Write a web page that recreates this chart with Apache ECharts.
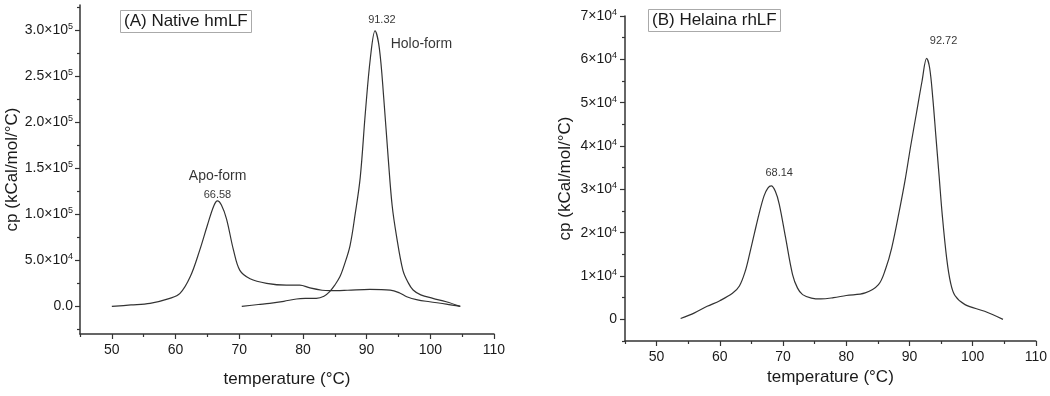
<!DOCTYPE html>
<html>
<head>
<meta charset="utf-8">
<script src="https://cdn.jsdelivr.net/npm/echarts@6/dist/echarts.min.js"></script>
<style>
  html, body { margin: 0; padding: 0; background: #fff; }
  #main { width: 1050px; height: 396px; }
</style>
</head>
<body>
<div id="main"></div>
<script>
// (A) native hmLF, apo-form scan
const apoT  = [50, 53, 56, 59.1, 60.7, 62.3, 63.8, 65, 66, 66.58, 67.2, 68, 69.1, 70.1, 71.7, 74.3, 77.4, 79.5, 81.1, 83, 84.2, 87, 90.5, 93.7, 95.2, 96.3, 98, 99.9, 102.5, 104.7]
const apoCp = [0, 1500, 3300, 8700, 14000, 32000, 61000, 88000, 109000, 114500, 110000, 95000, 61000, 39000, 30000, 25000, 23000, 23000, 20000, 17500, 17000, 17500, 18500, 17700, 14500, 10400, 7000, 5000, 2500, 0]

// (A) native hmLF, holo-form scan
const holoT  = [70.4, 73, 74.8, 77, 79, 80.5, 82.1, 83.3, 84.2, 85, 85.8, 86.5, 87.4, 88.2, 89, 89.8, 90.6, 91.32, 92, 92.7, 93.4, 94, 94.7, 95.7, 96.5, 97.3, 98.5, 100.4, 102.5, 104.7]
const holoCp = [0, 2000, 3300, 5500, 8000, 8600, 8700, 11000, 16000, 23000, 32000, 45000, 66000, 100000, 140000, 210000, 270000, 299000, 280000, 225000, 160000, 110000, 76000, 39000, 26000, 17700, 12500, 8700, 5000, 0]

// (B) Helaina rhLF
const rhT  = [53.8, 56, 58, 60, 62, 63.1, 64, 64.7, 65.5, 66.2, 67, 67.6, 68.14, 68.8, 69.4, 70.4, 71.5, 72.3, 73.1, 74.5, 76, 78, 80, 83, 85.1, 86.2, 87.2, 88.5, 89.3, 90.2, 91.1, 92, 92.72, 93.2, 93.7, 94.2, 94.7, 95.2, 95.9, 96.5, 97.2, 98.8, 101.9, 104.8]
const rhCp = [200, 1500, 3000, 4300, 6000, 7700, 11000, 15000, 20000, 24300, 28500, 30300, 30800, 29500, 26600, 18900, 10400, 7200, 5700, 4900, 4700, 5000, 5500, 6100, 8000, 11500, 16500, 25800, 32000, 40000, 47500, 55000, 60200, 58000, 51000, 42000, 33000, 24000, 14000, 8500, 5500, 3400, 1860, 0]

// tick values
const xMajor = [50, 60, 70, 80, 90, 100, 110]
const xMinor = [45, 55, 65, 75, 85, 95, 105]
const yMajorA = [0, 50000, 100000, 150000, 200000, 250000, 300000]
const yMinorA = [-25000, 25000, 75000, 125000, 175000, 225000, 275000, 325000]
const yMajorB = [0, 10000, 20000, 30000, 40000, 50000, 60000, 70000]
const yMinorB = [-5000, 5000, 15000, 25000, 35000, 45000, 55000, 65000]

// annotations [T, cp, text]
const notesA = [[66.6, 141500, 'Apo-form'], [66.58, 121000, '66.58'], [98.6, 284000, 'Holo-form'], [92.4, 311000, '91.32']]
const notesB = [[69.4, 33800, '68.14'], [95.4, 64200, '92.72']]

const ink = '#1a1a1a'
const axisLine = { show: true, onZero: false, lineStyle: { color: '#333', width: 1.5 } }
const font = 'Liberation Sans, Arial, sans-serif'

const sup = {
  m: { fontSize: 14, color: ink, fontFamily: font },
  e: { fontSize: 9, color: ink, fontFamily: font, padding: [0, 0, 7, 0] }
}

function fmtA (v) {
  if (v === 0) return '{m|0.0}'
  const p = v >= 100000 ? 5 : 4
  return '{m|' + (v / Math.pow(10, p)).toFixed(1) + '×10}{e|' + p + '}'
}
function fmtB (v) {
  if (v === 0) return '{m|0}'
  return '{m|' + (v / 10000) + '×10}{e|4}'
}

function xAxes (gi, gap) {
  return [{
    type: 'value', gridIndex: gi, min: 45, max: 110, position: 'bottom',
    axisLine: axisLine,
    axisTick: { show: true, customValues: xMajor, length: 5, lineStyle: { color: '#333', width: 1.2 } },
    axisLabel: { customValues: xMajor, fontSize: 14, color: ink, fontFamily: font, margin: 9 },
    splitLine: { show: false },
    name: 'temperature (°C)', nameLocation: 'middle', nameGap: gap,
    nameTextStyle: { fontSize: 17, color: ink, fontFamily: font }
  }, {
    type: 'value', gridIndex: gi, min: 45, max: 110, position: 'bottom',
    axisLine: { show: false, onZero: false },
    axisTick: { show: true, customValues: xMinor, length: 3, lineStyle: { color: '#333', width: 1.2 } },
    axisLabel: { show: false },
    splitLine: { show: false }
  }]
}

function yAxes (gi, min, max, major, minor, fmt, gap, margin) {
  return [{
    type: 'value', gridIndex: gi, min: min, max: max, position: 'left',
    axisLine: axisLine,
    axisTick: { show: true, customValues: major, length: 5, lineStyle: { color: '#333', width: 1.2 } },
    axisLabel: { customValues: major, formatter: fmt, rich: sup, margin: margin },
    splitLine: { show: false },
    name: 'cp (kCal/mol/°C)', nameLocation: 'middle', nameGap: gap,
    nameTextStyle: { fontSize: 17, color: ink, fontFamily: font }
  }, {
    type: 'value', gridIndex: gi, min: min, max: max, position: 'left',
    axisLine: { show: false, onZero: false },
    axisTick: { show: true, customValues: minor, length: 3, lineStyle: { color: '#333', width: 1.2 } },
    axisLabel: { show: false },
    splitLine: { show: false }
  }]
}

function curve (xs, ys, xi, yi) {
  return {
    type: 'line', xAxisIndex: xi, yAxisIndex: yi,
    data: xs.map((t, i) => [t, ys[i]]),
    smooth: 0.35, showSymbol: false, silent: true,
    lineStyle: { color: '#333', width: 1.2 }
  }
}

// text annotations, drawn as labels of invisible scatter points
function notes (list, xi, yi, sizeOf) {
  return {
    type: 'scatter', xAxisIndex: xi, yAxisIndex: yi, symbolSize: 2, silent: true,
    data: list.map(n => ({ value: [n[0], n[1]], name: n[2], label: { fontSize: sizeOf(n[2]) } })),
    label: {
      show: true, position: 'inside', color: '#000', fontFamily: font,
      formatter: p => p.name
    },
    labelLayout: { hideOverlap: false },
    itemStyle: { color: 'rgba(0,0,0,0)' }
  }
}

const chart = echarts.init(document.getElementById('main'))

chart.setOption({
  animation: false,
  backgroundColor: '#fff',
  textStyle: { fontFamily: font },
  title: [{
    text: '(A) Native hmLF', left: 120, top: 10,
    borderColor: '#aaa', borderWidth: 1, padding: [3, 4, 3, 4],
    textStyle: { fontSize: 17, fontWeight: 'normal', color: ink, fontFamily: font }
  }, {
    text: '(B) Helaina rhLF', left: 648, top: 9,
    borderColor: '#aaa', borderWidth: 1, padding: [3, 4, 3, 4],
    textStyle: { fontSize: 17, fontWeight: 'normal', color: ink, fontFamily: font }
  }],
  grid: [
    { left: 80, right: 556, top: 5, bottom: 62 },
    { left: 625, right: 12, top: 16, bottom: 55 }
  ],
  xAxis: [...xAxes(0, 37), ...xAxes(1, 28)],
  yAxis: [
    ...yAxes(0, -30000, 327000, yMajorA, yMinorA, fmtA, 59, 7),
    ...yAxes(1, -5000, 70000, yMajorB, yMinorB, fmtB, 51, 8)
  ],
  series: [
    curve(apoT, apoCp, 0, 0),
    curve(holoT, holoCp, 0, 0),
    curve(rhT, rhCp, 2, 2),
    notes(notesA, 0, 0, s => /form/.test(s) ? 14 : 11),
    notes(notesB, 2, 2, () => 11)
  ]
})
</script>
</body>
</html>
